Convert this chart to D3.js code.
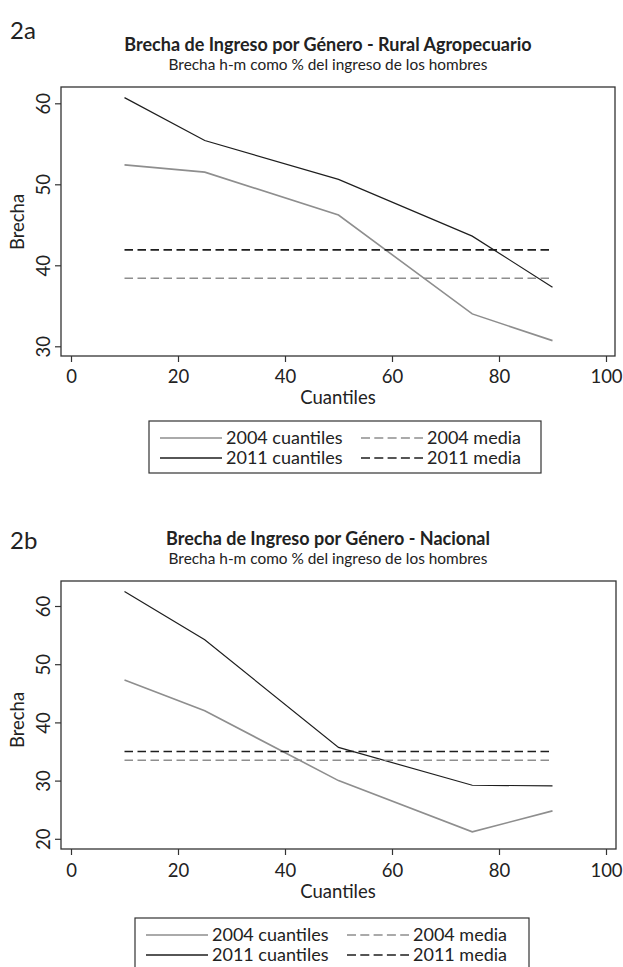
<!DOCTYPE html>
<html><head><meta charset="utf-8">
<script src="https://cdn.jsdelivr.net/npm/d3@7"></script>
<style>body{margin:0;background:#fff}svg text{font-family:Lato,"Open Sans",sans-serif;fill:#222}</style>
</head><body>
<svg id="c" width="623" height="967"></svg>
<script>
const quantiles = [10, 25, 50, 75, 90];
const xTicks = [0, 20, 40, 60, 80, 100];
const rural2004 = [52.4, 51.5, 46.2, 34.0, 30.7];
const rural2011 = [60.7, 55.4, 50.6, 43.6, 37.3];
const ruralMean2004 = 38.4;
const ruralMean2011 = 41.9;
const ruralYTicks = [30, 40, 50, 60];
const nac2004 = [47.3, 42.0, 30.0, 21.2, 24.8];
const nac2011 = [62.5, 54.2, 35.7, 29.2, 29.1];
const nacMean2004 = 33.5;
const nacMean2011 = 35.0;
const nacYTicks = [20, 30, 40, 50, 60];
const legendLabels = ["2004 cuantiles", "2004 media", "2011 cuantiles", "2011 media"];

const GREY = "#8e8e8e", BLACK = "#1e1e1e";
const FS = 18.5;
const svg = d3.select("#c");

function panel(o) {
  const g = svg.append("g");
  const x = d3.scaleLinear().domain([0, 100]).range([71, 606]);
  const y = d3.scaleLinear().domain(o.yDom).range(o.yRange);
  // labels
  g.append("text").attr("x", 10).attr("y", o.tagY).attr("font-size", 24).text(o.tag);
  g.append("text").attr("x", 328).attr("y", o.titleY).attr("text-anchor", "middle")
    .attr("font-size", 18).attr("font-weight", "bold").text(o.title);
  g.append("text").attr("x", 328).attr("y", o.titleY + 19).attr("text-anchor", "middle")
    .attr("font-size", 15.4).text("Brecha h-m como % del ingreso de los hombres");
  // box
  g.append("rect").attr("x", o.box[0]).attr("y", o.box[1]).attr("width", o.box[2] - o.box[0])
    .attr("height", o.box[3] - o.box[1]).attr("fill", "none").attr("stroke", "#333").attr("stroke-width", 1.3);
  // axes
  const ya = g.append("g").attr("transform", `translate(${o.box[0]},0)`)
    .call(d3.axisLeft(y).tickValues(o.yTicks).tickSize(6).tickPadding(4));
  ya.select(".domain").remove();
  ya.selectAll("line").attr("stroke", "#333").attr("stroke-width", 1.2);
  ya.selectAll("text").attr("font-size", FS).attr("fill", "#222")
    .attr("x", 0).attr("y", 0).attr("dy", 0).attr("text-anchor", "middle")
    .attr("transform", "translate(-11,0) rotate(-90)");
  const xa = g.append("g").attr("transform", `translate(0,${o.box[3]})`)
    .call(d3.axisBottom(x).tickValues(xTicks).tickSize(6).tickPadding(5));
  xa.select(".domain").remove();
  xa.selectAll("line").attr("stroke", "#333").attr("stroke-width", 1.2);
  xa.selectAll("text").attr("font-size", FS).attr("fill", "#222").attr("dy", 0).attr("y", o.xLabY - o.box[3]);
  g.append("text").attr("x", 338).attr("y", o.xLabY + 21).attr("text-anchor", "middle").attr("font-size", FS).text("Cuantiles");
  g.append("text").attr("transform", `translate(24,${o.yTitleC}) rotate(-90)`).attr("text-anchor", "middle")
    .attr("font-size", FS).text("Brecha");
  // series
  const line = d3.line().x((d, i) => x(quantiles[i])).y(d => y(d));
  const series = [
    {v: o.s2004, c: GREY, w: 1.6},
    {v: o.s2011, c: BLACK, w: 1.2},
  ];
  series.forEach(s => g.append("path").datum(s.v).attr("d", line).attr("fill", "none")
    .attr("stroke", s.c).attr("stroke-width", s.w));
  [[o.m2004, GREY], [o.m2011, BLACK]].forEach(([m, c]) => {
    g.append("line").attr("x1", x(quantiles[0])).attr("x2", x(quantiles[quantiles.length - 1]))
      .attr("y1", y(m)).attr("y2", y(m)).attr("stroke", c).attr("stroke-width", 1.6)
      .attr("stroke-dasharray", "8.5,4.5");
  });
  // legend
  const L = o.leg;
  g.append("rect").attr("x", L[0]).attr("y", L[1]).attr("width", L[2] - L[0]).attr("height", L[3] - L[1])
    .attr("fill", "none").attr("stroke", "#333").attr("stroke-width", 1.2);
  const rows = [L[1] + 23, L[1] + 43];
  const cols = [L[0] + 11, L[0] + 212];
  const items = [
    {lab: legendLabels[0], c: GREY, dash: null, col: 0, row: 0},
    {lab: legendLabels[1], c: GREY, dash: "9,4.3", col: 1, row: 0},
    {lab: legendLabels[2], c: BLACK, dash: null, col: 0, row: 1},
    {lab: legendLabels[3], c: BLACK, dash: "9,4.3", col: 1, row: 1},
  ];
  items.forEach(it => {
    const cx = cols[it.col], ry = rows[it.row];
    g.append("line").attr("x1", cx).attr("x2", cx + 62).attr("y1", ry - 6).attr("y2", ry - 6)
      .attr("stroke", it.c).attr("stroke-width", it.dash ? 1.6 : 1.3).attr("stroke-dasharray", it.dash);
    g.append("text").attr("x", cx + 66).attr("y", ry).attr("font-size", 18).text(it.lab);
  });
}

panel({tag: "2a", tagY: 39, title: "Brecha de Ingreso por Género - Rural Agropecuario", titleY: 51,
  box: [61, 87, 615, 356], yDom: [30, 60], yRange: [346.3, 103.3], yTicks: ruralYTicks,
  xLabY: 383, yTitleC: 222, s2004: rural2004, s2011: rural2011, m2004: ruralMean2004, m2011: ruralMean2011,
  leg: [149, 421, 541, 473]});
panel({tag: "2b", tagY: 549, title: "Brecha de Ingreso por Género - Nacional", titleY: 545,
  box: [61, 581, 616, 849], yDom: [20, 60], yRange: [838.8, 606], yTicks: nacYTicks,
  xLabY: 877, yTitleC: 720, s2004: nac2004, s2011: nac2011, m2004: nacMean2004, m2011: nacMean2011,
  leg: [135, 918, 529, 970]});
</script>
</body></html>
